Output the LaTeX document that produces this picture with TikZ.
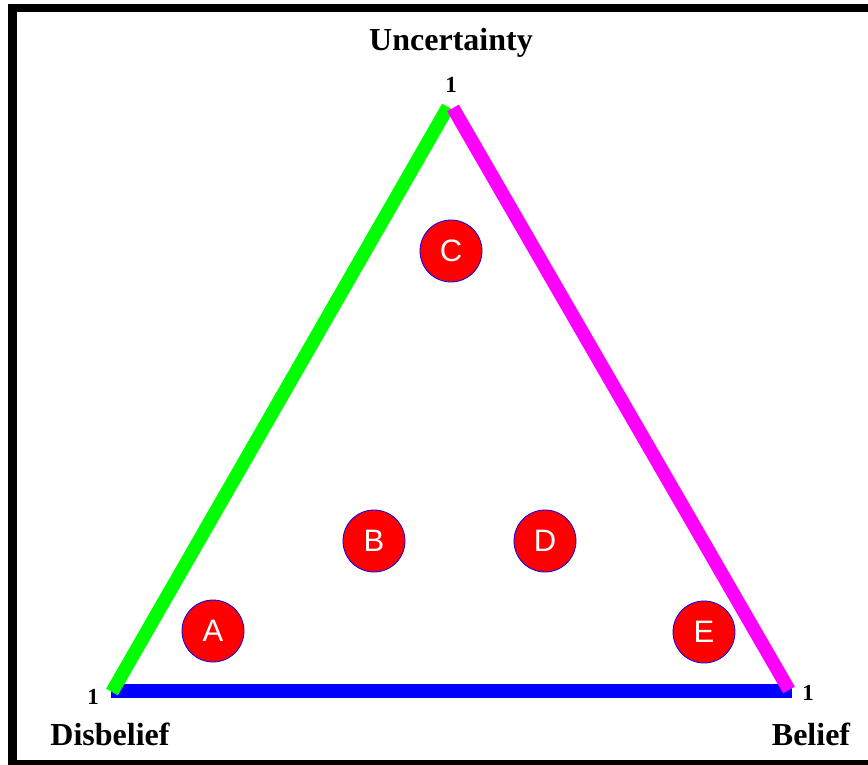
\documentclass[tikz,border=0pt]{standalone}
\usepackage{fontspec}
\setmainfont{Liberation Serif}
\setsansfont{Liberation Sans}
\usepackage{tikz}
\usetikzlibrary{positioning}
\definecolor{azul}{RGB}{0,0,255}
\definecolor{verde}{RGB}{0,255,0}
\definecolor{magenta}{RGB}{255,0,255}
\definecolor{rojo}{RGB}{255,0,0}

\begin{document}
\begin{tikzpicture}[x=1pt,y=-1pt,
punto/.style={circle,draw=azul,line width=0.8pt,fill=rojo,minimum size=62pt,inner sep=0pt,text=white,font=\sffamily\fontsize{31}{31}\selectfont},
eje/.style={font=\bfseries\fontsize{32}{32}\selectfont,anchor=base},
uno/.style={font=\bfseries\fontsize{23}{23}\selectfont,anchor=base},
lado/.style={line width=13.5pt,line cap=butt}
]
\useasboundingbox (0,0) rectangle (868,765);
\clip (0,0) rectangle (868,765);
\draw[line width=8.5pt] (12.5,8) rectangle (873,764.5);

% vertices of the triangle
\coordinate (dis) at (112,691);
\coordinate (unc) at (450,107);
\coordinate (bel) at (790,690);

\draw[lado,azul] ([xshift=-1pt]dis) -- ([xshift=2pt,yshift=-1pt]bel);
\draw[lado,verde] ([yshift=-1pt]dis) -- ([xshift=-2pt]unc);
\draw[lado,magenta] ([xshift=3pt,yshift=-1pt]unc) -- ([xshift=-1pt]bel);

\node[eje] (tunc) at (451,51) {Uncertainty};
\node[eje] (tdis) at (110,745) {Disbelief};
\node[eje] (tbel) at (811,745) {Belief};
\node[uno] (uunc) at (451,93) {1};
\node[uno] (udis) at (93,704) {1};
\node[uno] (ubel) at (808,700) {1};

\node[punto] (a) at (213,631) {A};
\node[punto] (b) at (374,541) {B};
\node[punto] (c) at (451,251) {C};
\node[punto] (d) at (545,541) {D};
\node[punto] (e) at (704,632) {E};
\end{tikzpicture}
\end{document}
